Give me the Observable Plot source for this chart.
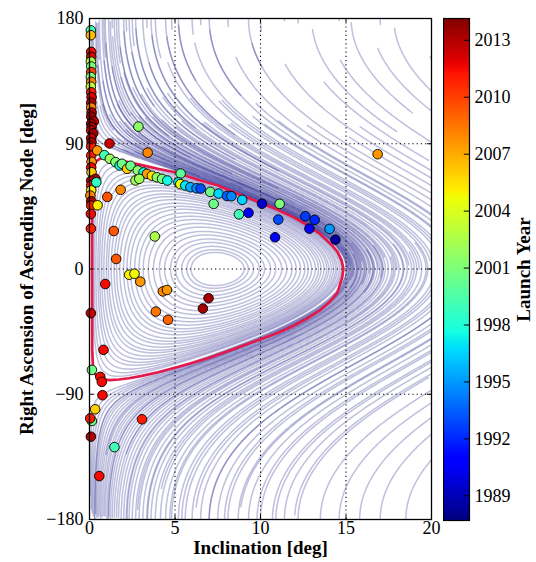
<!DOCTYPE html>
<html><head><meta charset="utf-8">
<script src="https://cdn.jsdelivr.net/npm/d3@7"></script>
<script src="https://cdn.jsdelivr.net/npm/@observablehq/plot@0.6"></script>
<style>
body{margin:0;background:#fff;}
#chart{position:relative;width:536px;height:562px;}
#chart svg{position:absolute;top:0;}
</style></head><body><div id="chart"></div>
<script>
// ---- scatter data: satellites (inclination deg, RAAN deg, launch year) ----
const inclination = [
0.08,0.08,0.10,0.10,0.08,0.10,0.10,0.08,0.10,0.08,0.10,0.12,0.10,0.10,0.12,0.10,0.25,0.10,0.12,0.10,0.22,0.10,0.12,0.10,0.10,0.12,0.10,0.12,0.35,0.10,0.10,0.10,0.05,0.10,0.10,0.08,0.08,0.40,
0.08,0.14,0.63,0.72,0.76,0.33,0.14,0.04,0.08,0.57,1.46,3.07,0.82,
0.92,2.32,2.63,2.97,4.29,4.53,3.88,4.59,6.63,6.96,1.56,1.42,3.82,1.04,1.82,0.47,
2.86,1.17,3.40,16.85,
0.45,0.87,1.19,1.52,1.76,1.90,2.20,2.40,2.82,3.16,3.36,3.65,3.94,4.24,4.55,2.69,2.91,5.33,5.20,5.31,5.60,5.90,6.26,6.50,7.06,7.55,8.04,8.30,8.93,10.09,7.26,8.74,9.30,11.12,11.04,10.85,12.62,13.17,12.86,14.04,14.38
];
const raan = [
171.5,168,156,152.5,149,145.5,141.5,138,134.5,131,127,123.5,119.5,116,112.5,109.5,106,104.5,102,99.5,97.5,94,91,88,81.5,77,73,69.5,64.8,63.5,60,56.5,52.8,48.7,45.6,39.6,29,62.3,
-31.7,-72.5,-77.5,-81.1,-90.7,-100.8,-109.2,-107.3,-120.5,-148.8,-128,-108,-58.1,
-10.8,-4.1,-3.4,-9.1,-16.1,-15.1,-30.6,-36.5,-28.4,-21,7.2,27.3,23.4,51.8,56.9,45.8,
102.3,90.2,83.6,82.5,
85.2,81.8,79.2,76.8,74.4,75.6,72,74.2,70.8,69.4,68.4,67,65.9,64.8,63.6,63.6,64.8,68.6,62.3,61,60,58.8,58,57.8,55.4,54.2,52.5,52.3,49.7,46.9,46.8,39.3,40.4,46.8,35.5,22.8,37.9,35.3,29,28.8,21.1
];
const launchYear = [
1999,2006.5,2011.5,2012,2002.5,2001,2010,2001,2008,2003,2011,2012,2013,2008,2013,2013.5,2012.5,2013.5,2013,2012,2013.5,2012.5,2013,2011,2011,2007.5,2011.5,2006,2013,2013,2011,2005,2008,2013,2011,2011.5,2011,1998.5,
2012.5,2000.5,2011.5,2011.5,2011.5,2006,2000.5,2011,2013,2011.5,1999,2011,2011.5,
2011.5,2005,2004.8,2007.5,2008,2007.5,2008.5,2009,2013.3,2013.3,2009.3,2009.3,2002.5,2009.5,2008,2005,
2001.5,2012.5,2008,2007.5,
2007.5,1999,2002,2001,1997.5,2000.5,2006,2000.5,2001.5,1997.5,2007.5,2005.5,2001.5,2001,1997.5,2002,2002,2000,1997,2004.5,1997,1995.5,1994.5,1993,2000.5,1996.5,1993.5,1994.5,1996.5,1989.5,2000.5,1999,1990.5,2001,1993,1990.5,1992.5,1992,1990.5,1995,1988.5
];

// ---- red reference trajectory ----
const redIncl = [0.15,0.15,0.17,0.24,0.40,0.60,0.90,1.20,1.70,2.30,3.00,4.00,5.00,6.40,7.50,8.40,9.30,10.10,11.00,11.90,12.80,13.50,14.10,14.50,14.75,14.85,14.78,14.50,14.10,13.50,12.80,11.90,11.00,10.00,9.00,8.00,7.00,6.00,5.00,4.00,3.00,2.30,1.70,1.20,0.80,0.50,0.30,0.20,0.16,0.15];
const redRaan = [0,55,68,73.5,77.5,79.2,79.8,79.6,78.2,76.6,74.8,72,69.5,64,60,55.3,51,47,42.5,37.3,31,25,18,12.5,6,0,-6,-17,-23,-29.5,-35,-41,-46,-50.5,-55,-59.5,-63.8,-67.5,-71,-74.2,-77,-78.5,-79.4,-79.8,-79.3,-77.8,-75,-70,-58,0];

// ---- background phase-space trajectories: circles about the Laplace-plane pole ----
const laplaceIncl = 7.49;
const innerRadii = [7.30,7.22,7.12,7.00,6.90,6.78,6.65,6.50,6.38,6.22,6.05,5.90,5.72,5.50,5.30,5.10,4.85,4.60,4.35,4.05,3.75,3.40,3.10,2.75,2.45,2.10,1.80,1.55];
const outerTracks = [ // [radius beyond the pole distance, start angle, end angle]
[0.04,176,-185],[0.10,172,-200],[0.16,178,-182],[0.22,170,-230],[0.30,176,-180],[0.36,165,-190],[0.42,178,-215],[0.50,172,-182],
[0.58,176,-250],[0.66,168,-180],[0.75,177,-205],[0.84,160,-183],[0.92,178,-270],[1.02,170,-180],[1.12,175,-195],[1.22,165,-222],
[1.33,178,-181],[1.45,172,-240],[1.58,160,-186],[1.70,176,-210],[1.85,168,-180],[2.00,178,-260],[2.15,155,-182],[2.32,174,-200],
[2.50,165,-185],[2.70,178,-235],[2.90,150,-180],[3.12,170,-215],[3.35,160,-182],[3.60,176,-250],[3.85,145,-190],[4.15,168,-180],
[4.45,175,-225],[4.80,140,-183],
[5.2,178,-200],[5.6,150,-180],[6.0,172,-185],[6.5,140,-182],[7.0,176,-210],[7.5,135,-180],[8.1,165,-183],[8.7,130,-180],[9.3,170,-200],[10.0,120,-185],[10.7,160,-180],[11.4,125,-181],
[12.2,150,100],[12.2,-100,-182],[13.0,175,120],[13.5,-95,-180],[14.0,160,105],[14.6,-110,-181],[15.3,178,130],[15.8,-100,-180],
[16.5,165,115],[17.0,-105,-183],[17.8,175,140],[18.5,-110,-180],[19.3,160,125],[20.0,-115,-181],[21.0,178,150],[22.0,-120,-180],
[23.5,170,140],[24.5,-125,-180],[26.0,-140,-180],
// upper band segments
[0.12,165,0],[0.28,168,5],[0.48,160,-10],[0.80,166,0],[1.00,150,10],[1.40,162,-5],[1.90,158,0],[2.40,150,15],[3.00,160,0],[3.70,145,5],[4.30,155,0],[5.00,140,10],[5.80,150,0],[6.60,135,5],[7.40,145,0],
[0.06,170,-20],[0.20,160,-30],[0.40,175,-15],[0.65,165,-25],[0.90,170,-40],[1.20,160,-20],[1.65,172,-30],[2.10,165,-10],
// lower band / lower right segments
[0.30,30,-180],[0.70,20,-175],[1.10,35,-180],[1.60,25,-170],[2.20,30,-180],[2.80,15,-178],[3.40,30,-180],[4.00,20,-172],[4.70,30,-180],[5.40,10,-180],[6.20,20,-176],[7.00,0,-180],[7.90,10,-180],[8.80,0,-175],[9.80,5,-180],[10.90,0,-180],[12.00,-20,-178]
];

const xTicks = [0,5,10,15,20];
const yTicks = [-180,-90,0,90,180];
const yearTicks = [1989,1992,1995,1998,2001,2004,2007,2010,2013];
const yearDomain = [1987.7, 2014.15];

// ---- jet colormap ----
const jetSeg = {
  r:[[0,0],[0.35,0],[0.66,1],[0.89,1],[1,0.5]],
  g:[[0,0],[0.125,0],[0.375,1],[0.64,1],[0.91,0],[1,0]],
  b:[[0,0.5],[0.11,1],[0.34,1],[0.65,0],[1,0]]
};
function segv(p,t){for(let k=1;k<p.length;k++){if(t<=p[k][0]){const[x0,y0]=p[k-1],[x1,y1]=p[k];return y0+(y1-y0)*(t-x0)/(x1-x0);}}return p[p.length-1][1];}
function jet(t){t=Math.max(0,Math.min(1,t));return d3.rgb(255*segv(jetSeg.r,t),255*segv(jetSeg.g,t),255*segv(jetSeg.b,t)).formatHex();}

function trackPoints(r, phi0, phi1, id){
  const pts=[]; const n=Math.ceil(Math.abs(phi1-phi0)/0.3);
  let s=0, prev=null;
  for(let k=0;k<=n;k++){
    const ph=(phi0+(phi1-phi0)*k/n)*Math.PI/180;
    const ix=laplaceIncl+r*Math.cos(ph), iy=r*Math.sin(ph);
    const inc=Math.hypot(ix,iy), om=Math.atan2(iy,ix)*180/Math.PI;
    if(prev!==null && Math.abs(om-prev)>180) s++;
    prev=om;
    pts.push({inc, om, z:id+"-"+s});
  }
  return pts;
}
const trackData=[];
innerRadii.forEach((r,k)=>{for(const p of trackPoints(r,180,-180,"i"+k)) trackData.push(p);});
outerTracks.forEach(([d,a,b],k)=>{for(const p of trackPoints(laplaceIncl+d,a,b,"o"+k)) trackData.push(p);});

const points = inclination.map((v,k)=>({inc:v, om:raan[k], year:launchYear[k]}));
const redData = redIncl.map((v,k)=>({inc:v, om:redRaan[k]}));

const FONT = "'Liberation Serif', 'DejaVu Serif', serif";
const fmt = d => d<0 ? "\u2212"+Math.abs(d) : String(d);
const tickLenX = 4/17.09, tickLenY = 4/1.389;

const main = Plot.plot({
  width:536, height:562, marginLeft:89, marginRight:105, marginTop:18, marginBottom:43,
  x:{domain:[0,20]}, y:{domain:[-180,180]},
  color:{type:"linear", domain:yearDomain, interpolate:jet},
  style:{fontFamily:FONT, fontSize:"18px", color:"black", background:"transparent"},
  marks:[
    Plot.line(trackData,{x:"inc", y:"om", z:"z", stroke:"#24248f", strokeOpacity:0.29, strokeWidth:1.5, clip:true}),
    Plot.ruleX([5,10,15],{stroke:"black", strokeWidth:1.1, strokeDasharray:"1.2,3"}),
    Plot.ruleY([-90,0,90],{stroke:"black", strokeWidth:1.1, strokeDasharray:"1.2,3"}),
    Plot.line(redData,{x:"inc", y:"om", stroke:"#e3184b", strokeWidth:2.7, clip:true}),
    Plot.dot(points,{x:"inc", y:"om", fill:"year", r:4.8, stroke:"black", strokeWidth:0.9}),
    Plot.frame({stroke:"black", strokeWidth:1.3}),
    Plot.ruleX(xTicks,{y1:-180, y2:-180+tickLenY, stroke:"black"}),
    Plot.ruleX(xTicks,{y1:180, y2:180-tickLenY, stroke:"black"}),
    Plot.ruleY(yTicks,{x1:0, x2:tickLenX, stroke:"black"}),
    Plot.ruleY(yTicks,{x1:20, x2:20-tickLenX, stroke:"black"}),
    Plot.axisX(xTicks,{tickSize:0, tickPadding:2, label:null, tickFormat:fmt}),
    Plot.axisY(yTicks,{tickSize:0, tickPadding:6, label:null, tickFormat:fmt}),
    Plot.text(["Inclination [deg]"],{text:d=>d, frameAnchor:"bottom", textAnchor:"middle", dy:34, fontWeight:"bold", fontSize:19}),
    Plot.text(["Right Ascension of Ascending Node [deg]"],{text:d=>d, frameAnchor:"left", textAnchor:"middle", dx:-63, rotate:-90, fontWeight:"bold", fontSize:19})
  ]
});
main.style.left="0px";

const nSteps=300, stepY=(yearDomain[1]-yearDomain[0])/nSteps;
const cbCells=d3.range(nSteps).map(k=>yearDomain[0]+k*stepY);
const bar = Plot.plot({
  width:93, height:562, marginLeft:0, marginRight:67, marginTop:18, marginBottom:42,
  x:{domain:[0,1], axis:null}, y:{domain:yearDomain},
  color:{type:"linear", domain:yearDomain, interpolate:jet},
  style:{fontFamily:FONT, fontSize:"18px", color:"black", background:"transparent"},
  marks:[
    Plot.rect(cbCells,{x1:0, x2:1, y1:d=>d, y2:d=>Math.min(d+stepY*1.6, yearDomain[1]), fill:d=>d+stepY/2}),
    Plot.frame({stroke:"black", strokeWidth:1.2}),
    Plot.ruleY(yearTicks,{x1:0.8, x2:1, stroke:"black"}),
    Plot.axisY(yearTicks,{anchor:"right", tickSize:0, tickPadding:5, label:null, tickFormat:d=>String(d)}),
    Plot.text(["Launch Year"],{text:d=>d, frameAnchor:"right", textAnchor:"middle", dx:54, rotate:-90, fontWeight:"bold", fontSize:19})
  ]
});
bar.style.left="443px";

const el=document.getElementById("chart");
el.appendChild(main); el.appendChild(bar);
</script></body></html>
